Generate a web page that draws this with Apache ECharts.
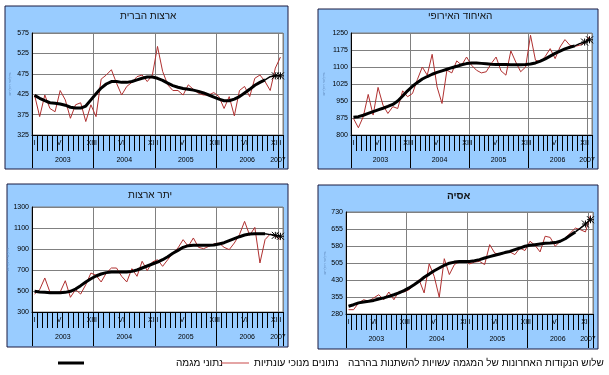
<!DOCTYPE html>
<html><head><meta charset="utf-8">
<script src="https://cdn.jsdelivr.net/npm/echarts@6/dist/echarts.min.js"></script>
<style>html,body{margin:0;padding:0;background:#fff}#c{width:609px;height:375px}</style>
</head><body><div id="c"></div>
<script>
const months = [
 '2003-01','2003-02','2003-03','2003-04','2003-05','2003-06','2003-07','2003-08','2003-09','2003-10','2003-11','2003-12',
 '2004-01','2004-02','2004-03','2004-04','2004-05','2004-06','2004-07','2004-08','2004-09','2004-10','2004-11','2004-12',
 '2005-01','2005-02','2005-03','2005-04','2005-05','2005-06','2005-07','2005-08','2005-09','2005-10','2005-11','2005-12',
 '2006-01','2006-02','2006-03','2006-04','2006-05','2006-06','2006-07','2006-08','2006-09','2006-10','2006-11','2006-12',
 '2007-01'];
const romanMonths = ['I','II','III','IV','V','VI','VII','VIII','IX','X','XI','XII'];
const shownMonths = ['I','VI','XII'];

const panelTitles = ['ארצות הברית','האיחוד האירופי','יתר ארצות','אסיה'];
const unitName = 'מיליוני דולרים';
const nameSeasonal = 'נתונים מנוכי עונתיות';
const nameTrend = 'נתוני מגמה';
const nameTail = 'שלוש הנקודות האחרונות של המגמה עשויות להשתנות בהרבה';

const usaSeasonal = [423,370,423,390,382,434,411,366,399,404,358,399, 370,462,472,485,452,423,444,454,468,472,456,472, 542,481,448,434,434,423,448,437,427,423,423,429, 419,390,419,372,434,444,419,464,472,456,434,489, 516];
const usaTrend = [422,415,409,404,403,401,398,393,391,391,396,411, 426,440,450,456,456,454,454,456,460,464,467,467, 464,459,452,446,442,439,437,435,432,428,423,418, 413,409,409,413,419,428,437,447,454,460,468,470, 470];

const euSeasonal = [873,832,881,979,888,1010,932,895,925,917,995,969, 983,1045,1100,1064,1156,1012,939,1086,1074,1127,1108,1144, 1108,1086,1074,1079,1115,1144,1083,1064,1171,1122,1079,1100, 1240,1130,1122,1147,1181,1137,1188,1221,1196,1191,1196,1206, 1235];
const euTrend = [878,881,887,895,903,911,918,926,935,950,972,995, 1015,1032,1047,1058,1068,1076,1083,1090,1097,1103,1110,1115, 1118,1118,1116,1114,1112,1111,1111,1111,1110,1110,1110,1111, 1113,1118,1126,1136,1148,1160,1170,1180,1187,1193,1203,1210, 1220];

const otherSeasonal = [471,513,624,490,481,490,598,440,513,471,560,671, 649,586,671,719,719,640,586,713,640,783,694,776, 798,735,798,862,910,989,925,1005,916,903,925,948, 957,916,894,957,1037,1163,1030,1106,767,989,1043,1021, 989];
const otherTrend = [497,490,487,484,484,484,487,497,519,551,586,617, 643,662,675,681,681,681,681,687,700,719,738,757, 776,798,827,859,887,916,932,935,935,935,935,938, 948,960,979,998,1017,1033,1043,1046,1046,1046,1037,1030, 1021];

const asiaSeasonal = [299,299,329,343,336,351,365,343,377,343,380,377, 387,409,431,373,501,446,354,524,454,498,512,515, 501,509,512,498,586,549,542,549,554,542,571,560, 601,583,554,623,618,579,601,615,637,659,652,642, 715];
const asiaTrend = [314,321,329,333,336,340,346,351,358,365,373,383, 395,409,424,442,456,471,483,495,504,509,512,512, 512,515,520,527,533,539,545,551,556,564,571,579, 583,586,589,592,593,595,601,612,627,642,659,677, 696];

// y-axis: [min, max, labelStep, baseStep]
const yScales = [[325,575,50,25],[800,1250,75,25],[300,1300,200,100],[280,730,75,5]];

const seasonalSets = [usaSeasonal, euSeasonal, otherSeasonal, asiaSeasonal];
const trendSets = [usaTrend, euTrend, otherTrend, asiaTrend];

const panels = [
  {rect:{x:5,y:6,width:283,height:163}, grid:{left:32,top:33,width:251,height:102}, title:{left:120,top:11}, nameGap:20, yearTick:33},
  {rect:{x:318,y:9,width:280,height:160}, grid:{left:351,top:33,width:241,height:102}, title:{left:428,top:11}, nameGap:25, yearTick:33},
  {rect:{x:7,y:184,width:281,height:163}, grid:{left:32,top:207,width:251,height:105}, title:{left:128,top:190}, nameGap:20, yearTick:34},
  {rect:{x:318,y:185,width:280,height:164}, grid:{left:346,top:212,width:247,height:102}, title:{left:447,top:191}, nameGap:19, yearTick:34}
];

const FONT = 'Liberation Sans';
const TAIL_START = 45;
const asterisk = 'path://M0,0L10,10M10,0L0,10M5,0L5,10M0,5L10,5';

const grids=[], xAxes=[], yAxes=[], series=[], titles=[], graphics=[];
panels.forEach((p, g) => {
  graphics.push({type:'rect', shape:p.rect, z:-10, style:{fill:'#99CCFF', stroke:'#1a1a40', lineWidth:1}});
  grids.push(Object.assign({show:true, backgroundColor:'#fff', borderColor:'#808080', borderWidth:1}, p.grid));
  titles.push({text:panelTitles[g], left:p.title.left, top:p.title.top, padding:0,
    textStyle:{fontSize:10, fontWeight: g===3?'bold':'normal', color:'#111', fontFamily:FONT}});
  xAxes.push({type:'category', gridIndex:g, data:months, boundaryGap:true, position:'bottom',
    axisLine:{show:true, lineStyle:{color:'#000', width:1}},
    axisTick:{show:true, interval:0, length:16, lineStyle:{color:'#000'}},
    axisLabel:{interval:(i,v)=>shownMonths.includes(romanMonths[+v.slice(5)-1]),
      formatter:v=>romanMonths[+v.slice(5)-1], fontSize:7, margin:5, color:'#000', fontFamily:FONT},
    splitLine:{show:true, interval:(i)=>i%12===0, lineStyle:{color:'#808080'}}});
  xAxes.push({type:'category', gridIndex:g, data:months, boundaryGap:true, position:'bottom',
    axisLine:{show:false},
    axisTick:{show:true, interval:(i)=>i%12===0, length:p.yearTick, lineStyle:{color:'#000'}},
    axisLabel:{interval:(i)=>i%12===6 || i===48, formatter:v=>v.slice(0,4), fontSize:7, margin:22,
      padding:[0,5,0,0], color:'#000', fontFamily:FONT},
    splitLine:{show:false}});
  const [mn, mx, step, base] = yScales[g];
  const cols = []; for (let k=0;k<step/base;k++) cols.push(k===0?'#808080':'rgba(0,0,0,0)');
  yAxes.push({type:'value', gridIndex:g, min:mn, max:mx, interval:base,
    axisLine:{show:true, lineStyle:{color:'#000'}}, axisTick:{show:false},
    axisLabel:{fontSize:7, color:'#000', margin:3, fontFamily:FONT, formatter:v=>((v-mn)%step===0?String(v):'')},
    splitLine:{show:true, lineStyle:{color:cols, width:1}},
    name:unitName, nameLocation:'middle', nameGap:p.nameGap, nameRotate:90,
    nameTextStyle:{fontSize:4, color:'#6a95c8', fontFamily:FONT}});
  const seas = seasonalSets[g], tr = trendSets[g];
  series.push({type:'line', name:nameSeasonal, xAxisIndex:2*g, yAxisIndex:g, data:seas, symbol:'none',
    lineStyle:{color:'#B03030', width:1}, itemStyle:{color:'#B03030'}, z:2});
  series.push({type:'line', name:nameTrend, xAxisIndex:2*g, yAxisIndex:g,
    data:tr.map((v,i)=> i<=TAIL_START ? v : null), symbol:'none',
    lineStyle:{color:'#000', width:3}, itemStyle:{color:'#000'}, z:3});
  series.push({type:'line', name:nameTail, xAxisIndex:2*g, yAxisIndex:g,
    data:tr.map((v,i)=> i<TAIL_START ? null : (i===TAIL_START ? {value:v, symbol:'none'} : v)),
    symbol:asterisk, symbolSize:7, showSymbol:true,
    lineStyle:{color:'#000', width:1.5}, itemStyle:{color:'rgba(0,0,0,0)', borderColor:'#000', borderWidth:1}, z:4});
});

const legendY = 358;
const legends = [
  {data:[{name:nameTrend, icon:'rect', itemStyle:{color:'#000', borderWidth:0}}], left:58, top:legendY, padding:0, itemWidth:26, itemHeight:3, itemGap:0, selectedMode:false,
   textStyle:{fontSize:10, color:'#000', fontFamily:FONT, padding:[0,0,0,87]}},
  {data:[{name:nameSeasonal, icon:'rect', itemStyle:{color:'#C84848', borderWidth:0}}], left:221, top:legendY, padding:0, itemWidth:28, itemHeight:1, selectedMode:false,
   textStyle:{fontSize:10, color:'#000', fontFamily:FONT}},
  {data:[{name:nameTail, icon:'rect', itemStyle:{color:'rgba(0,0,0,0)', borderWidth:0}}], left:343, top:legendY, padding:0, itemWidth:0, itemHeight:0, itemGap:0, selectedMode:false,
   textStyle:{fontSize:10, color:'#000', fontFamily:FONT}}
];

const chart = echarts.init(document.getElementById('c'), null, {renderer:'canvas'});
chart.setOption({
  animation:false, backgroundColor:'#fff',
  title:titles, grid:grids, xAxis:xAxes, yAxis:yAxes, series:series, legend:legends,
  graphic:{elements:graphics}
});
</script></body></html>
